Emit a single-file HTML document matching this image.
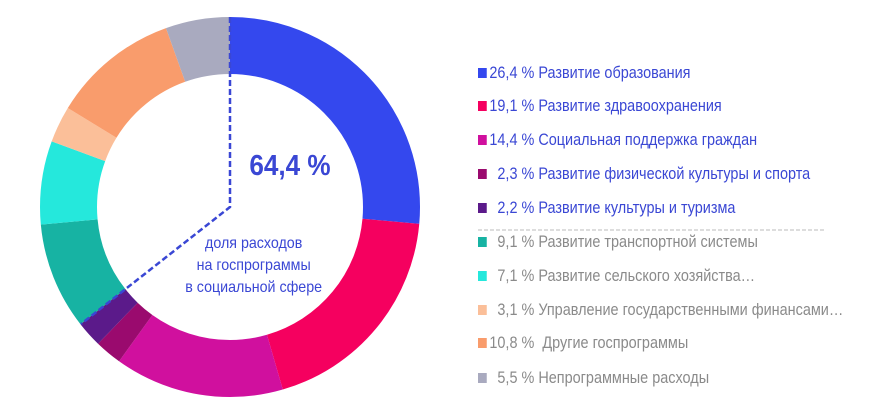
<!DOCTYPE html>
<html><head><meta charset="utf-8"><style>
body{margin:0;background:#fff;width:870px;height:400px;overflow:hidden;font-family:"Liberation Sans",sans-serif}
.lg{position:absolute;left:478px;font-size:16.5px;line-height:18px;white-space:nowrap;transform-origin:0 50%;transform:scaleX(0.875)}
.lg i{display:inline-block;width:10px;height:10px;margin-right:3px;vertical-align:0px}
.b{color:#3a47d4}.g{color:#8a8a8a}
</style></head><body>
<svg width="870" height="400" style="position:absolute;left:0;top:0">
<g transform="rotate(-90 230 207)" fill="none" stroke-width="57">
<circle cx="230" cy="207" r="161.5" stroke="#3448ee" stroke-dasharray="267.9 2000" stroke-dashoffset="0"/>
<circle cx="230" cy="207" r="161.5" stroke="#f5005f" stroke-dasharray="193.8 2000" stroke-dashoffset="-267.9"/>
<circle cx="230" cy="207" r="161.5" stroke="#d0109e" stroke-dasharray="146.1 2000" stroke-dashoffset="-461.7"/>
<circle cx="230" cy="207" r="161.5" stroke="#9a0a6e" stroke-dasharray="23.3 2000" stroke-dashoffset="-607.8"/>
<circle cx="230" cy="207" r="161.5" stroke="#5b1a8a" stroke-dasharray="22.3 2000" stroke-dashoffset="-631.1"/>
<circle cx="230" cy="207" r="161.5" stroke="#17b3a3" stroke-dasharray="92.3 2000" stroke-dashoffset="-653.4"/>
<circle cx="230" cy="207" r="161.5" stroke="#25e8dc" stroke-dasharray="72.0 2000" stroke-dashoffset="-745.7"/>
<circle cx="230" cy="207" r="161.5" stroke="#fbbf99" stroke-dasharray="31.5 2000" stroke-dashoffset="-817.7"/>
<circle cx="230" cy="207" r="161.5" stroke="#f99c6c" stroke-dasharray="109.6 2000" stroke-dashoffset="-849.2"/>
<circle cx="230" cy="207" r="161.5" stroke="#a9aabf" stroke-dasharray="55.9 2000" stroke-dashoffset="-958.8"/>
</g>
<polyline points="230,17 230,207 81,324" fill="none" stroke="#3a47d4" stroke-width="2.5" stroke-dasharray="6 3"/>
<line x1="478" y1="230" x2="826" y2="230" stroke="#bbb" stroke-dasharray="4 2"/>
<text x="290" y="175" text-anchor="middle" font-size="29" font-weight="bold" fill="#3a47d4" transform="translate(29 0) scale(0.9 1)">64,4 %</text>
<g font-size="15.5" fill="#3a47d4" text-anchor="middle" transform="translate(20 0) scale(0.92 1)">
<text x="254" y="248">доля расходов</text>
<text x="254" y="270">на госпрограммы</text>
<text x="254" y="292">в социальной сфере</text>
</g>
</svg>
<div class="lg b" style="top:64px"><i style="background:#3448ee"></i>26,4 % Развитие образования</div>
<div class="lg b" style="top:97px"><i style="background:#f5005f"></i>19,1 % Развитие здравоохранения</div>
<div class="lg b" style="top:131px"><i style="background:#d0109e"></i>14,4 % Социальная поддержка граждан</div>
<div class="lg b" style="top:165px"><i style="background:#9a0a6e"></i>&nbsp; 2,3 % Развитие физической культуры и спорта</div>
<div class="lg b" style="top:199px"><i style="background:#5b1a8a"></i>&nbsp; 2,2 % Развитие культуры и туризма</div>
<div class="lg g" style="top:233px"><i style="background:#17b3a3"></i>&nbsp; 9,1 % Развитие транспортной системы</div>
<div class="lg g" style="top:267px"><i style="background:#25e8dc"></i>&nbsp; 7,1 % Развитие сельского хозяйства…</div>
<div class="lg g" style="top:301px"><i style="background:#fbbf99"></i>&nbsp; 3,1 % Управление государственными финансами…</div>
<div class="lg g" style="top:334px"><i style="background:#f99c6c"></i>10,8 % &nbsp;Другие госпрограммы</div>
<div class="lg g" style="top:369px"><i style="background:#a9aabf"></i>&nbsp; 5,5 % Непрограммные расходы</div>
</body></html>
